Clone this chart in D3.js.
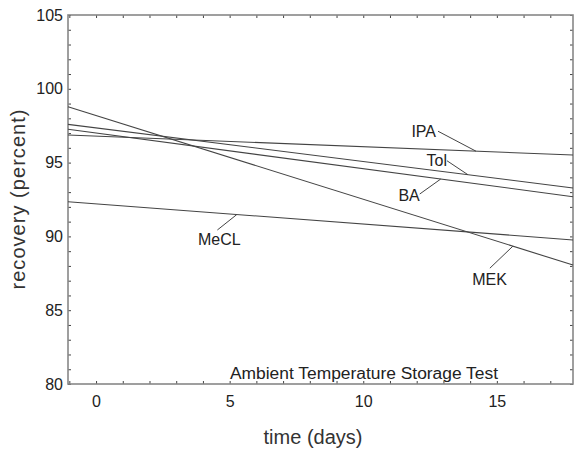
<!DOCTYPE html>
<html>
<head>
<meta charset="utf-8">
<script src="https://cdn.jsdelivr.net/npm/d3@7/dist/d3.min.js"></script>
<style>
  body { margin: 0; background: #fff; }
  svg { display: block; font-family: "Liberation Sans", Arial, sans-serif; }
  .tick text { font-size: 16px; fill: #222; }
</style>
</head>
<body>
<div id="chart"></div>
<script>
// fitted lines, values read at the two edges of the plot
const days = [-1.05, 17.85];
const solvents = ['IPA', 'Tol', 'BA', 'MEK', 'MeCL'];
const ipa  = [96.87, 95.51];
const tol  = [97.59, 93.28];
const ba   = [97.26, 92.69];
const mek  = [98.79, 88.06];
const mecl = [92.35, 89.76];
const yTickLabels = [80, 85, 90, 95, 100, 105];
const xTickLabels = [0, 5, 10, 15];

const series = [ipa, tol, ba, mek, mecl];

// label placement: day where the leader touches the line,
// text offset from that point and leader end offset from the text (px)
const labelLayout = {
    IPA:  { day: 14.22, dx: -40,   dy: -14,  anchor: 'end',    lx: 2,   ly: -6 },
    Tol:  { day: 13.92, dx: -21,   dy: -9,   anchor: 'end',    lx: 0,   ly: -5 },
    BA:   { day: 12.9,  dx: -21,   dy: 22,   anchor: 'end',    lx: 0,   ly: -7 },
    MEK:  { day: 15.6,  dx: -6,    dy: 39,   anchor: 'end',    lx: -17, ly: -17 },
    MeCL: { day: 5.27,  dx: -17.5, dy: 30.5, anchor: 'middle', lx: -2,  ly: -15 }
};

const width = 574, height = 453;
const margin = { top: 15, right: 1, bottom: 69, left: 68 };

const svg = d3.select('#chart').append('svg')
    .attr('width', width)
    .attr('height', height);

const x = d3.scaleLinear().domain(days).range([margin.left, width - margin.right]);
const y = d3.scaleLinear().domain([80, 105]).range([height - margin.bottom, margin.top]);

const xMinor = d3.range(-1, 18);
const yMinor = d3.range(80, 106);
const fmtX = d => xTickLabels.includes(d) ? d : '';
const fmtY = d => yTickLabels.includes(d) ? d : '';

function styleAxis(g) {
    g.select('.domain').remove();
    g.selectAll('.tick line').attr('stroke', '#444');
}

svg.append('g')
    .attr('transform', `translate(0,${y(80)})`)
    .call(d3.axisBottom(x).tickValues(xMinor).tickFormat(fmtX).tickSize(-3).tickPadding(12))
    .call(styleAxis);
svg.append('g')
    .attr('transform', `translate(0,${y(105)})`)
    .call(d3.axisTop(x).tickValues(xMinor).tickFormat('').tickSize(-3))
    .call(styleAxis);
svg.append('g')
    .attr('transform', `translate(${x(days[0])},0)`)
    .call(d3.axisLeft(y).tickValues(yMinor).tickFormat(fmtY).tickSize(-3).tickPadding(5))
    .call(styleAxis);
svg.append('g')
    .attr('transform', `translate(${x(days[1])},0)`)
    .call(d3.axisRight(y).tickValues(yMinor).tickFormat('').tickSize(-3))
    .call(styleAxis);

svg.selectAll('.tick text').attr('font-family', 'Liberation Sans, Arial, sans-serif');

// frame
svg.append('rect')
    .attr('x', x(days[0]))
    .attr('y', y(105))
    .attr('width', x(days[1]) - x(days[0]))
    .attr('height', y(80) - y(105))
    .attr('fill', 'none')
    .attr('stroke', '#888')
    .attr('stroke-width', 1.6);

const line = d3.line()
    .x((d, i) => x(days[i]))
    .y(d => y(d));

svg.append('g').selectAll('path')
    .data(series)
    .join('path')
    .attr('d', line)
    .attr('fill', 'none')
    .attr('stroke', '#444')
    .attr('stroke-width', 1.1);

// labels with leader lines
const valueAt = (s, day) => s[0] + (s[1] - s[0]) * (day - days[0]) / (days[1] - days[0]);

solvents.forEach((name, i) => {
    const L = labelLayout[name];
    const px = x(L.day), py = y(valueAt(series[i], L.day));
    const tx = px + L.dx, ty = py + L.dy;
    svg.append('line')
        .attr('x1', px).attr('y1', py)
        .attr('x2', tx + L.lx).attr('y2', ty + L.ly)
        .attr('stroke', '#444')
        .attr('stroke-width', 1);
    svg.append('text')
        .attr('x', tx)
        .attr('y', ty)
        .attr('text-anchor', L.anchor)
        .attr('font-size', 16)
        .attr('fill', '#222')
        .text(name);
});

svg.append('text')
    .attr('x', 364)
    .attr('y', y(80) - 5)
    .attr('text-anchor', 'middle')
    .attr('font-size', 16)
    .attr('fill', '#222')
    .attr('textLength', 268)
    .attr('lengthAdjust', 'spacingAndGlyphs')
    .text('Ambient Temperature Storage Test');

svg.append('text')
    .attr('x', 313)
    .attr('y', 444)
    .attr('text-anchor', 'middle')
    .attr('font-size', 20)
    .attr('fill', '#333')
    .text('time (days)');

svg.append('text')
    .attr('transform', `translate(25,${(y(80) + y(105)) / 2}) rotate(-90)`)
    .attr('text-anchor', 'middle')
    .attr('font-size', 20)
    .attr('fill', '#333')
    .attr('textLength', 180)
    .text('recovery (percent)');
</script>
</body>
</html>
